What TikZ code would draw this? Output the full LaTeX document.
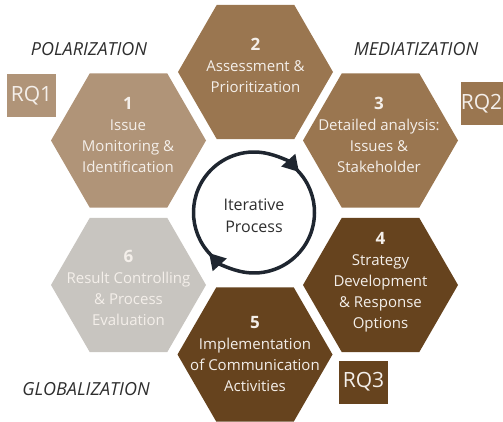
\documentclass[tikz,border=0pt]{standalone}
\usepackage{fontspec}
\setmainfont{Open Sans}
\usetikzlibrary{arrows.meta}
\definecolor{hexA}{HTML}{B09478}
\definecolor{hexB}{HTML}{9A7650}
\definecolor{hexC}{HTML}{66431E}
\definecolor{hexD}{HTML}{C8C5C0}
\definecolor{ink}{HTML}{2E2E2E}
\definecolor{ring}{HTML}{1F2630}
\definecolor{hextext}{HTML}{F4EFEA}
\newcommand\hexfill[3]{%
  \fill[#3] (#1,#2) ++(0:77.5pt) -- ++(120:77.5pt) -- ++(180:77.5pt)
    -- ++(240:77.5pt) -- ++(300:77.5pt) -- ++(0:77.5pt) -- cycle;}
\newcommand\hnum[1]{{\fontsize{17}{21}\selectfont\bfseries #1}}
\tikzset{
  hexlabel/.style={anchor=north, align=center, text=hextext, inner sep=0pt,
    font=\fontsize{15}{21}\selectfont},
  rqbox/.style={minimum width=49pt, minimum height=43pt, inner sep=0pt,
    text=hextext, font=\fontsize{21}{24}\selectfont},
  catlabel/.style={anchor=base, text=ink, inner sep=0pt,
    font=\fontsize{18}{20}\selectfont\itshape},
  ringline/.style={draw=ring, line width=3.5pt},
  ringtip/.style={-{Triangle[length=16pt,width=18pt]}}
}
\begin{document}
\begin{tikzpicture}[x=1pt,y=-1pt]
\useasboundingbox (0,0) rectangle (503,422);
\clip (0,0) rectangle (503,422);
% hexagons
\hexfill{128.5}{140.5}{hexA}
\hexfill{255.5}{72}{hexB}
\hexfill{380.5}{140.5}{hexB}
\hexfill{380.5}{285}{hexC}
\hexfill{255}{354.5}{hexC}
\hexfill{128.5}{285}{hexD}
% hexagon texts
\node[hexlabel] (t1) at (128,97) {\hnum{1}\\Issue\\Monitoring \&\\Identification};
\node[hexlabel] (t2) at (255.5,38) {\hnum{2}\\Assessment \&\\Prioritization};
\node[hexlabel] (t3) at (379,97) {\hnum{3}\\Detailed analysis:\\Issues \&\\Stakeholder};
\node[hexlabel] (t4) at (380.5,232) {\hnum{4}\\Strategy\\Development\\\& Response\\Options};
\node[hexlabel] (t5) at (255,316) {\hnum{5}\\Implementation\\of Communication\\Activities};
\node[hexlabel] (t6) at (128.5,250) {\hnum{6}\\Result Controlling\\\& Process\\Evaluation};
% RQ boxes
\node[rqbox, fill=hexA] (rq1) at (31.5,95.5) {RQ1};
\fill[hexB] (461,82) rectangle (510,125);
\node[rqbox, minimum width=0pt] (rq2) at (481.5,103.5) {RQ2};
\node[rqbox, fill=hexC] (rq3) at (363.5,382) {RQ3};
% category labels
\node[catlabel] (pol) at (89,56) {POLARIZATION};
\node[catlabel] (med) at (416,56) {MEDIATIZATION};
\node[catlabel] (glo) at (86,395) {GLOBALIZATION};
% iterative ring
\coordinate (rc) at (254,212.5);
\draw[ringline, ringtip] (rc) ++(230:60.5pt) arc[start angle=230, end angle=42, radius=60.5pt];
\draw[ringline, ringtip] (rc) ++(50:60.5pt) arc[start angle=50, end angle=-138, radius=60.5pt];
\node[anchor=north, align=center, text=ink, inner sep=0pt,
  font=\fontsize{16}{22}\selectfont] (iter) at (254,199) {Iterative\\Process};
\end{tikzpicture}
\end{document}
